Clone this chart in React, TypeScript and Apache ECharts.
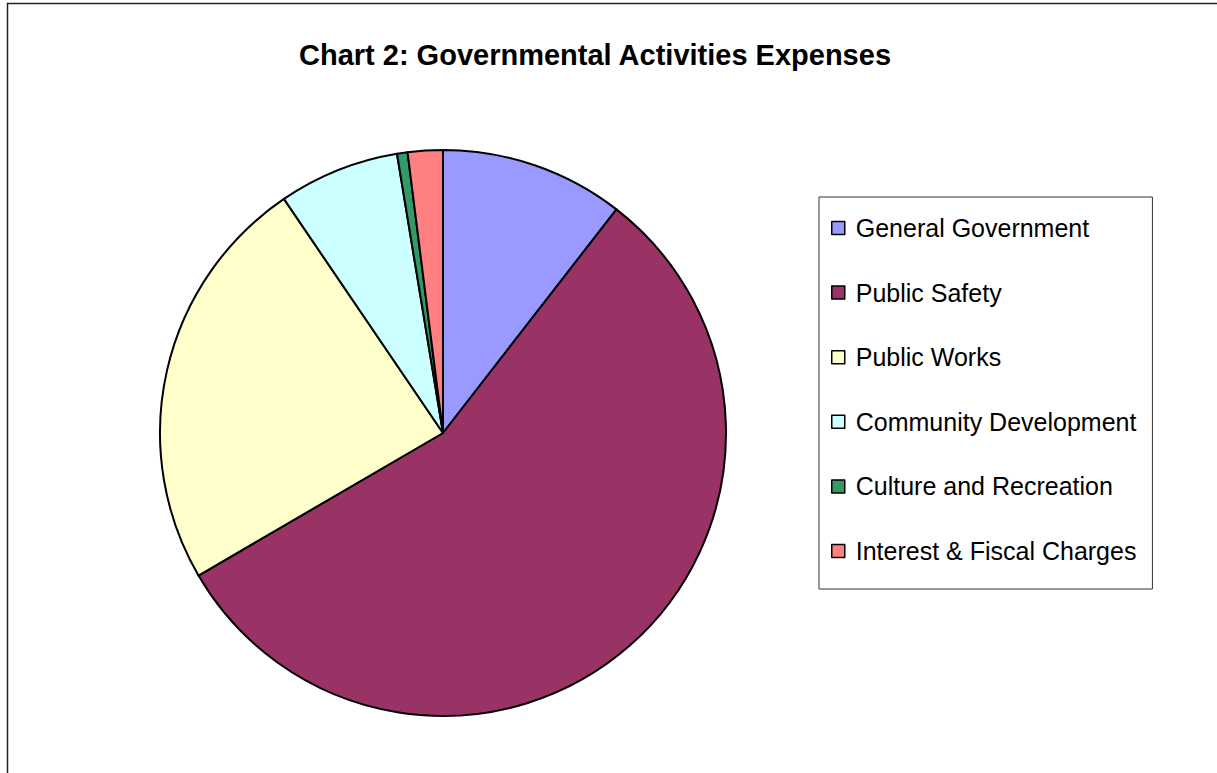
import React, { useEffect, useRef } from "react";
import * as echarts from "echarts";

const categories = [
  "General Government",
  "Public Safety",
  "Public Works",
  "Community Development",
  "Culture and Recreation",
  "Interest & Fiscal Charges",
];
const shares = [10.5, 56.1, 23.9, 6.9, 0.6, 2.0];
const colors = ["#9999FF", "#993366", "#FFFFCC", "#CCFFFF", "#339966", "#FF8080"];
const titleText = "Chart 2: Governmental Activities Expenses";

export default function App() {
  const ref = useRef<HTMLDivElement>(null);
  useEffect(() => {
    if (!ref.current) return;
    const chart = echarts.init(ref.current, undefined, { renderer: "svg" });
    chart.setOption({
      animation: false,
      backgroundColor: "#ffffff",
      title: {
        text: titleText,
        left: 590,
        top: 35,
        textAlign: "center",
        textStyle: {
          fontFamily: "Liberation Sans, Arial, sans-serif",
          fontWeight: "bold",
          fontSize: 29,
          color: "#000",
        },
      },
      graphic: [
        {
          type: "rect",
          shape: { x: 7.5, y: 3.5, width: 1400, height: 1000 },
          style: { fill: "none", stroke: "#222", lineWidth: 1.5 },
          silent: true,
          z: 100,
        },
      ],
      legend: {
        orient: "vertical",
        left: 819,
        top: 197,
        padding: [16, 16, 23, 12],
        itemGap: 34.6,
        itemWidth: 13,
        itemHeight: 13,
        icon: "rect",
        borderColor: "#333",
        borderWidth: 1,
        data: categories,
        itemStyle: { borderColor: "#000", borderWidth: 1.5 },
        textStyle: {
          fontFamily: "Liberation Sans, Arial, sans-serif",
          fontSize: 25,
          lineHeight: 30,
          color: "#000",
          padding: [0, 0, 0, 6],
        },
      },
      series: [
        {
          type: "pie",
          center: [443, 433],
          radius: 283,
          startAngle: 90,
          clockwise: true,
          label: { show: false },
          labelLine: { show: false },
          emphasis: { disabled: true },
          itemStyle: { borderColor: "#000", borderWidth: 2 },
          data: categories.map((name, i) => ({
            name,
            value: shares[i],
            itemStyle: { color: colors[i] },
          })),
        },
      ],
    });
    return () => chart.dispose();
  }, []);
  return (
    <div
      ref={ref}
      style={{ position: "fixed", left: 0, top: 0, width: 1217, height: 773 }}
    />
  );
}
